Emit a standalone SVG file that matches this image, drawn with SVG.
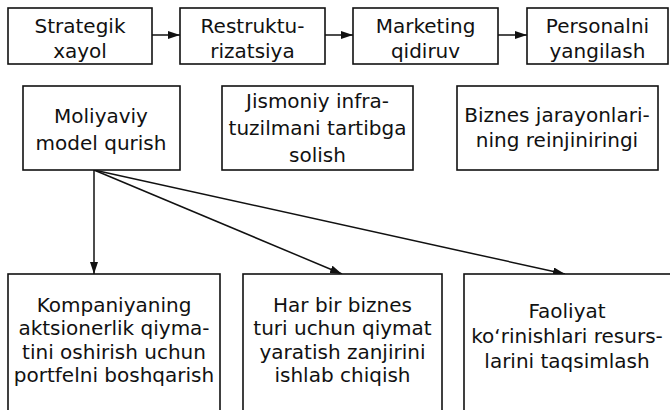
<svg xmlns="http://www.w3.org/2000/svg" width="670" height="410" viewBox="0 0 670 410">
<defs>
<style>
.box{fill:#fff;stroke:#111;stroke-width:1.6}
text{font-family:"DejaVu Sans","Liberation Sans",sans-serif;font-size:20px;fill:#111;text-anchor:middle}
.c{fill:none;stroke:#111;stroke-width:1.5}
</style>
<marker id="ah" viewBox="0 0 12 8" refX="12" refY="4" markerWidth="12" markerHeight="8" markerUnits="userSpaceOnUse" orient="auto">
<path d="M0,0 L12,4 L0,8 Z" fill="#111"/>
</marker>
</defs>
<rect width="670" height="410" fill="#fff"/>
<g id="connectors">
<line class="c" x1="152" y1="35" x2="180" y2="35" marker-end="url(#ah)"/>
<line class="c" x1="325" y1="35" x2="353" y2="35" marker-end="url(#ah)"/>
<line class="c" x1="498" y1="35" x2="527" y2="35" marker-end="url(#ah)"/>
<line class="c" x1="94" y1="170" x2="94" y2="274" marker-end="url(#ah)"/>
<line class="c" x1="94" y1="170" x2="342" y2="274" marker-end="url(#ah)"/>
<line class="c" x1="94" y1="170" x2="565" y2="274" marker-end="url(#ah)"/>
</g>
<g id="n1"><rect class="box" x="8" y="8" width="144" height="56"/><text x="80" y="33">Strategik</text><text x="80" y="58">xayol</text></g>
<g id="n2"><rect class="box" x="180" y="8" width="145" height="56"/><text x="252.5" y="33">Restruktu-</text><text x="252.5" y="58">rizatsiya</text></g>
<g id="n3"><rect class="box" x="353" y="8" width="145" height="56"/><text x="425.5" y="33">Marketing</text><text x="425.5" y="58">qidiruv</text></g>
<g id="n4"><rect class="box" x="527" y="8" width="141" height="56"/><text x="597.5" y="33">Personalni</text><text x="597.5" y="58">yangilash</text></g>
<g id="n5"><rect class="box" x="23" y="86" width="157" height="84"/><text x="101" y="123">Moliyaviy</text><text x="101" y="150">model qurish</text></g>
<g id="n6"><rect class="box" x="222" y="86" width="191" height="84"/><text x="317.5" y="108">Jismoniy infra-</text><text x="317.5" y="135">tuzilmani tartibga</text><text x="317.5" y="162">solish</text></g>
<g id="n7"><rect class="box" x="457" y="86" width="201" height="84"/><text x="557" y="122">Biznes jarayonlari-</text><text x="557" y="147">ning reinjiniringi</text></g>
<g id="n8"><rect class="box" x="8" y="274" width="212" height="150"/><text x="114" y="311.5">Kompaniyaning</text><text x="114" y="335">aktsionerlik qiyma-</text><text x="114" y="358.5">tini oshirish uchun</text><text x="114" y="382">portfelni boshqarish</text></g>
<g id="n9"><rect class="box" x="243" y="274" width="199" height="150"/><text x="342.5" y="311.5">Har bir biznes</text><text x="342.5" y="335">turi uchun qiymat</text><text x="342.5" y="358.5">yaratish zanjirini</text><text x="342.5" y="382">ishlab chiqish</text></g>
<g id="n10"><rect class="box" x="464" y="274" width="210" height="150"/><text x="567" y="318">Faoliyat</text><text x="567" y="343">ko‘rinishlari resurs-</text><text x="567" y="368">larini taqsimlash</text></g>
</svg>
